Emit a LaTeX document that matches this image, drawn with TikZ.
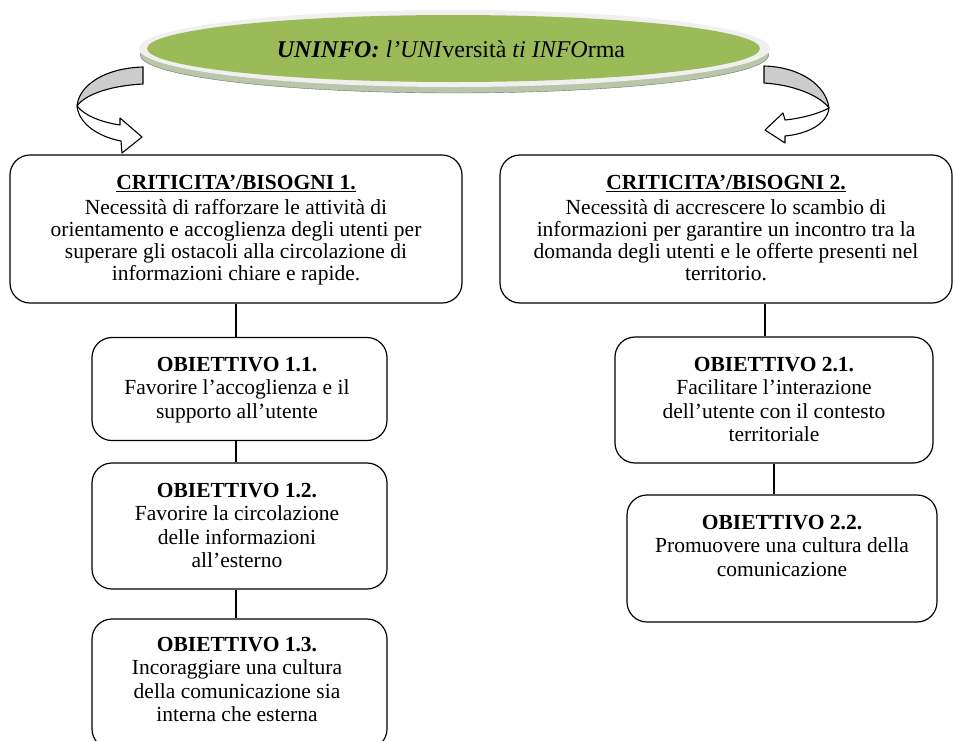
\documentclass[tikz,border=0pt]{standalone}
\usepackage{fontspec}
\setmainfont{Liberation Serif}
\usetikzlibrary{positioning,shapes.geometric}
\definecolor{olive}{RGB}{155,187,89}
\definecolor{rimgray}{RGB}{240,240,240}
\definecolor{shadowgreen}{RGB}{186,198,170}
\definecolor{bandgray}{RGB}{204,204,204}
\begin{document}
\begin{tikzpicture}[x=1pt,y=-1pt,
	box/.style={draw,line width=1.2pt,rounded corners=20pt,inner sep=0pt},
	txt/.style={align=center,anchor=north,inner sep=0pt,font=\fontsize{21.5}{23.5}\selectfont},
	band/.style={draw,line width=1.1pt,line join=round}]
		\useasboundingbox (0,0) rectangle (954,740);
		
		% title ellipse
		\fill[shadowgreen] (454.5,55) ellipse (314pt and 38pt);
		\draw[shadowgreen!60!black,line width=.4pt] (454.5,55) ellipse (314pt and 38pt);
		\fill[rimgray] (454.5,48.5) ellipse (315.5pt and 38.5pt);
		\fill[olive] (453.5,48.5) ellipse (306.5pt and 33.5pt);
		\node[font=\fontsize{24}{26}\selectfont] (title) at (451,49)
			{\textbf{\textit{UNINFO:}} \textit{l’UNI}versità \textit{ti INFO}rma};
		
		% curved arrows
		\draw[band,fill=bandgray] (143,67) .. controls (105,68) and (79,85) .. (77,106) .. controls (84,96) and (106,86) .. (143,84) -- cycle;
		\draw[band,fill=white] (77,106) .. controls (79,125) and (100,137) .. (121,141) -- (122,153) -- (142,137) -- (120,118) -- (120,125) .. controls (100,122) and (84,115) .. (77,106) -- cycle;
		
		\draw[band,fill=bandgray] (764,66) .. controls (800,67) and (826,85) .. (829,108) .. controls (820,96) and (795,85) .. (764,83) -- cycle;
		\draw[band,fill=white] (829,108) .. controls (827,125) and (806,134) .. (785,136) -- (785,143) -- (765,130) -- (783,113) -- (785,120) .. controls (805,118) and (822,112) .. (829,108) -- cycle;
		
		% boxes
		\node[box,minimum width=452pt,minimum height=148pt] (crit1) at (236,229) {};
		\node[box,minimum width=452pt,minimum height=148pt] (crit2) at (726,229) {};
		\node[box,minimum width=295pt,minimum height=103pt] (ob11) at (239.5,389) {};
		\node[box,minimum width=295pt,minimum height=126pt] (ob12) at (239.5,526) {};
		\node[box,minimum width=295pt,minimum height=130pt] (ob13) at (239.5,684) {};
		\node[box,minimum width=318pt,minimum height=126pt] (ob21) at (774,400) {};
		\node[box,minimum width=310pt,minimum height=127pt] (ob22) at (782,558.5) {};
		
		% texts
		\node[txt,font=\fontsize{21.5}{22}\selectfont] (crit1t) at (236,175)
			{\textbf{\underline{CRITICITA’/BISOGNI 1.}}\\[3pt] Necessità di rafforzare le attività di\\ orientamento e accoglienza degli utenti per\\ superare gli ostacoli alla circolazione di\\ informazioni chiare e rapide.};
		\node[txt,font=\fontsize{21.5}{22}\selectfont] (crit2t) at (726,175)
			{\textbf{\underline{CRITICITA’/BISOGNI 2.}}\\[3pt] Necessità di accrescere lo scambio di\\ informazioni per garantire un incontro tra la\\ domanda degli utenti e le offerte presenti nel\\ territorio.};
		\node[txt] (ob11t) at (237,357) {\textbf{OBIETTIVO 1.1.}\\ Favorire l’accoglienza e il\\ supporto all’utente};
		\node[txt] (ob12t) at (237,483) {\textbf{OBIETTIVO 1.2.}\\ Favorire la circolazione\\ delle informazioni\\ all’esterno};
		\node[txt] (ob13t) at (237,637) {\textbf{OBIETTIVO 1.3.}\\ Incoraggiare una cultura\\ della comunicazione sia\\ interna che esterna};
		\node[txt] (ob21t) at (774,357) {\textbf{OBIETTIVO 2.1.}\\ Facilitare l’interazione\\ dell’utente con il contesto\\ territoriale};
		\node[txt] (ob22t) at (782,515) {\textbf{OBIETTIVO 2.2.}\\ Promuovere una cultura della\\ comunicazione};
		
		% connectors
		\coordinate (lane2) at (765,0);
		\draw[line width=1.2pt] (crit1.south) -- (crit1.south |- ob11.north);
		\draw[line width=1.2pt] (ob11.south -| crit1.south) -- (ob12.north -| crit1.south);
		\draw[line width=1.2pt] (ob12.south -| crit1.south) -- (ob13.north -| crit1.south);
		\draw[line width=1.2pt] (crit2.south -| lane2) -- (ob21.north -| lane2);
		\draw[line width=1.2pt] (ob21.south) -- (ob21.south |- ob22.north);
\end{tikzpicture}
\end{document}
